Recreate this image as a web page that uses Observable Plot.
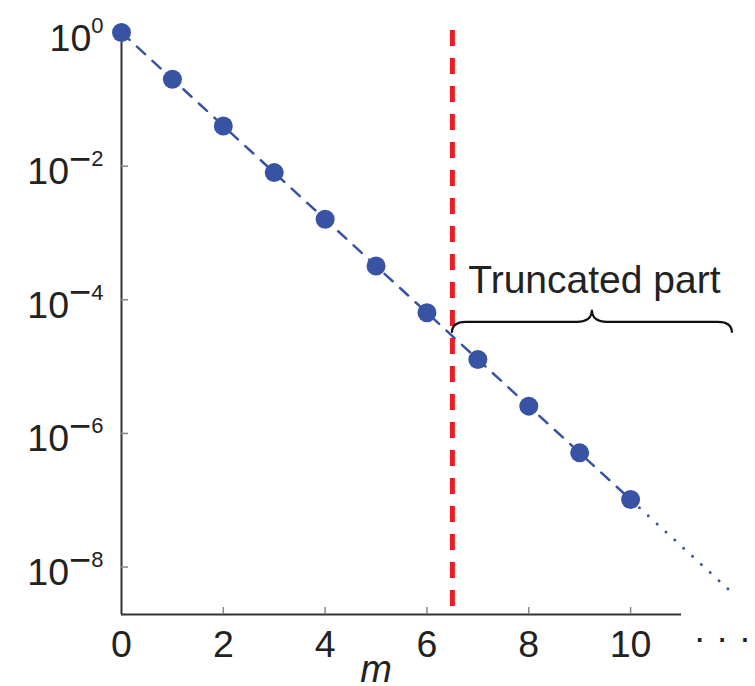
<!DOCTYPE html>
<html>
<head>
<meta charset="utf-8">
<script src="https://cdn.jsdelivr.net/npm/d3@7"></script>
<script src="https://cdn.jsdelivr.net/npm/@observablehq/plot@0.6"></script>
<style>
  html, body { margin: 0; padding: 0; background: white; }
</style>
</head>
<body>
<div id="chart"></div>
<script>
// ---- data ----
const mValues = [0, 1, 2, 3, 4, 5, 6, 7, 8, 9, 10];
const amplitudes = [1, 0.2, 0.04, 0.008, 0.0016, 3.2e-4, 6.4e-5, 1.28e-5, 2.56e-6, 5.12e-7, 1.024e-7];
const tailM = [10, 12];
const tailValues = [1.024e-7, 4.1e-9];
const xTicks = [2, 4, 6, 8, 10];
const xTickLabels = [0, 2, 4, 6, 8, 10];
const yTicks = [1, 1e-2, 1e-4, 1e-6, 1e-8];
const truncationM = [6.5];
const braceFrom = 6.5, braceTo = 12, braceAt = 4.6e-5;
const braceLabel = "Truncated part";
const xLabel = "m";
const ellipsis = "· · ·";
const ellipsisAt = 11.8;

const yMin = 1.95e-9, yMax = 1;
const points = mValues.map((m, i) => ({m, v: amplitudes[i]}));
const tail = tailM.map((m, i) => ({m, v: tailValues[i]}));

const blue = "#3953a4";
const red = "#ee1d25";
const font = "'Liberation Sans', Arial, sans-serif";

const W = 755, H = 686, mL = 121, mR = 74, mT = 32, mB = 72;

function brace(index, scales) {
  const x1 = scales.x(braceFrom), x2 = scales.x(braceTo), y = scales.y(braceAt);
  const xm = (x1 + x2) / 2, hx = 14, hy = 11, tx = 15, ty = 12;
  const p = d3.path();
  p.moveTo(x1, y + hy);
  p.quadraticCurveTo(x1, y, x1 + hx, y);
  p.lineTo(xm - tx, y);
  p.quadraticCurveTo(xm, y, xm, y - ty);
  p.quadraticCurveTo(xm, y, xm + tx, y);
  p.lineTo(x2 - hx, y);
  p.quadraticCurveTo(x2, y, x2, y + hy);
  const el = d3.create("svg:path")
    .attr("d", p.toString())
    .attr("fill", "none")
    .attr("stroke", "#111")
    .attr("stroke-width", 2.2);
  return el.node();
}

const fmtExp = d => String(Math.round(Math.log10(d)));

const svg = Plot.plot({
  width: W,
  height: H,
  marginLeft: mL,
  marginRight: mR,
  marginTop: mT,
  marginBottom: mB,
  style: {fontFamily: font, fontSize: "37px", color: "#222", background: "white", overflow: "visible"},
  x: {domain: [0, 11]},
  y: {type: "log", domain: [yMin, yMax]},
  marks: [
    // axis lines
    Plot.ruleX([0], {y1: yMin, y2: yMax, stroke: "#333", strokeWidth: 2}),
    Plot.ruleY([yMin], {x1: 0, x2: 11, stroke: "#333", strokeWidth: 2}),
    // inward ticks
    Plot.tickY(yTicks, {y: d => d, stroke: "#888", strokeWidth: 1.5, insetRight: (W - mL - mR) - 7}),
    Plot.tickX(xTicks, {x: d => d, stroke: "#888", strokeWidth: 1.5, insetTop: (H - mT - mB) - 7}),
    // axis labels
    Plot.axisX({ticks: xTickLabels, tickSize: 0, tickPadding: 16, label: null, fontSize: 37.5, tickFormat: d => String(d)}),
    Plot.axisY({ticks: yTicks, tickSize: 0, tickPadding: 18, label: null, fontSize: 37.5, tickFormat: fmtExp}),
    // data
    Plot.line(points, {x: "m", y: "v", stroke: blue, strokeWidth: 2.5, strokeDasharray: "11,10"}),
    Plot.line(tail, {x: "m", y: "v", stroke: blue, strokeWidth: 3, strokeDasharray: "0,12", strokeLinecap: "round"}),
    Plot.dot(points, {x: "m", y: "v", r: 9.5, fill: blue, stroke: null}),
    Plot.ruleX(truncationM, {stroke: red, strokeWidth: 5, strokeDasharray: "16,12", insetTop: -2, insetBottom: 5}),
    // brace + label
    brace,
    Plot.text([braceLabel], {x: (braceFrom + braceTo) / 2, y: braceAt, text: d => d, lineAnchor: "bottom", dy: -29, dx: 2, fontSize: 39, fill: "#222"}),
    Plot.text([xLabel], {x: 5, frameAnchor: "bottom", text: d => d, lineAnchor: "bottom", dy: 67, fontStyle: "italic", fontSize: 38, fill: "#222"}),
    Plot.text([ellipsis], {x: ellipsisAt, frameAnchor: "bottom", text: d => d, lineAnchor: "bottom", dy: 35, fontSize: 37, fill: "#222"})
  ]
});

// superscript exponents on the log axis labels
d3.select(svg).selectAll('g[aria-label="y-axis tick label"] text').each(function () {
  const t = d3.select(this);
  const e = +t.text();
  t.text(null).attr("y", null).attr("dy", null);
  t.append("tspan").attr("dy", "18px").text("10");
  if (e < 0) {
    t.append("tspan").attr("dy", "-12.5px").attr("font-size", "38px").text("\u2212");
    t.append("tspan").attr("dy", "-5.5px").attr("font-size", "22px").text(String(-e));
  } else {
    t.append("tspan").attr("dy", "-18px").attr("font-size", "22px").text(String(e));
  }
});

document.getElementById("chart").appendChild(svg);
</script>
</body>
</html>
